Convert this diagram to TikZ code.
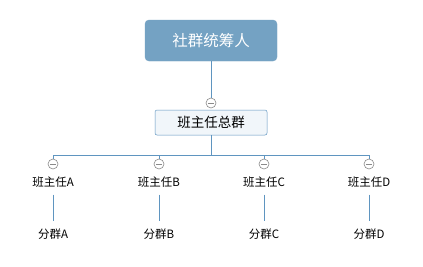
\documentclass[tikz,border=0pt]{standalone}
\usepackage{fontspec}
\setmainfont{Noto Sans CJK SC}
\usetikzlibrary{positioning}
\definecolor{rootblue}{HTML}{74A2C3}
\definecolor{linkblue}{HTML}{5F95C0}
\definecolor{hubfill}{HTML}{F1F6FA}
\definecolor{knobgray}{HTML}{8A8A8A}
\tikzset{
  rootbox/.style={draw=rootblue, fill=rootblue, rounded corners=4pt, minimum width=132pt, minimum height=41pt, text=white, font=\fontsize{15.5pt}{17pt}\selectfont},
  hubbox/.style={draw=linkblue, fill=hubfill, rounded corners=2pt, line width=0.5pt, minimum width=112pt, minimum height=25pt, font=\fontsize{13.5pt}{15pt}\selectfont},
  leaf/.style={inner sep=1pt, font=\fontsize{11.5pt}{13pt}\selectfont},
  link/.style={draw=linkblue, line width=0.8pt},
  knob/.style={circle, draw=knobgray, fill=white, line width=0.6pt, minimum size=10pt, inner sep=0pt,
    path picture={\draw[knobgray, line width=0.6pt] ([xshift=-3pt]path picture bounding box.center) -- ([xshift=3pt]path picture bounding box.center);}}
}
\begin{document}
\begin{tikzpicture}[x=1pt, y=-1pt]
  \useasboundingbox[fill=white] (0,0) rectangle (423,266);

  \node[rootbox] (root) at (211,40.5) {社群统筹人};
  \node[hubbox] (hub) at (211,122.5) {班主任总群};
  \node[knob] (hubknob) at (211,103) {};
  \coordinate (split) at (211,155);

  \draw[link] (root.south) -- (hubknob.north);
  \draw[link] (hub.south) -- (split);

  \foreach \name/\xx in {A/53, B/159, C/264, D/369} {
    \coordinate (top\name) at (\xx,155);
    \node[knob] (knob\name) at (\xx,164) {};
    \node[leaf] (head\name) at (\xx,182) {班主任\name};
    \node[leaf] (group\name) at (\xx,234) {分群\name};
    \draw[link] (top\name) -- (knob\name.north);
    \draw[link, shorten >=6pt, shorten <=6pt] (head\name.south) -- (group\name.north);
  }
  \draw[link] (topA) -- (topD);

\end{tikzpicture}
\end{document}
